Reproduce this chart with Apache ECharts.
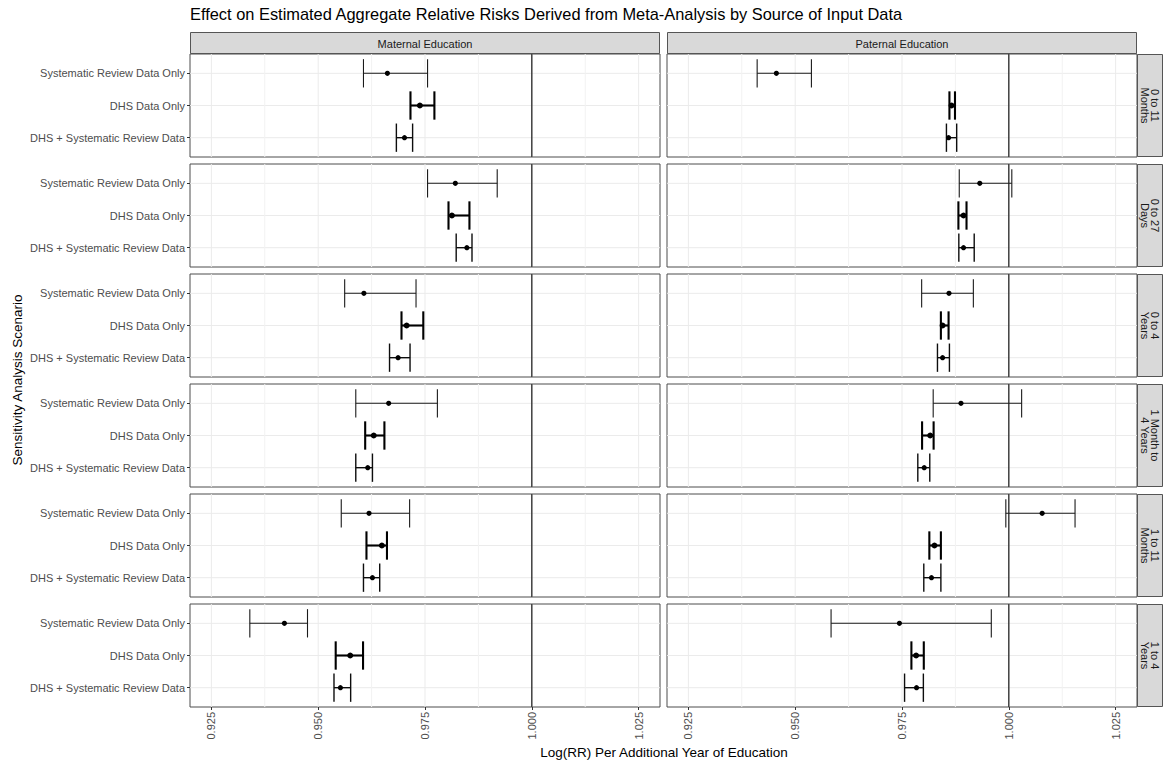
<!DOCTYPE html>
<html>
<head>
<meta charset="utf-8">
<script src="https://cdn.jsdelivr.net/npm/echarts@6/dist/echarts.min.js"></script>
<style>
  html, body { margin: 0; padding: 0; background: #ffffff; }
  #chart { width: 1167px; height: 763px; }
</style>
</head>
<body>
<div id="chart"></div>
<script>
// ---- data -----------------------------------------------------------------
const sources = ['Systematic Review Data Only', 'DHS Data Only', 'DHS + Systematic Review Data'];
const exposures = ['Maternal Education', 'Paternal Education'];
const ageGroups = ['0 to 11\nMonths', '0 to 27\nDays', '0 to 4\nYears', '1 Month to\n4 Years', '1 to 11\nMonths', '1 to 4\nYears'];
const majorTicks = [0.925, 0.95, 0.975, 1.0, 1.025];
const minorTicks = [0.9375, 0.9625, 0.9875, 1.0125];
const referenceValue = 1.0;

// rows = age groups, columns = sources (SR only, DHS only, DHS + SR)
const maternalEstimate = [
  [0.9662, 0.9738, 0.9702],
  [0.9821, 0.9813, 0.9848],
  [0.9607, 0.9707, 0.9687],
  [0.9665, 0.9630, 0.9616],
  [0.9619, 0.9649, 0.9627],
  [0.9421, 0.9575, 0.9552]
];
const maternalLower = [
  [0.9606, 0.9716, 0.9683],
  [0.9756, 0.9805, 0.9823],
  [0.9562, 0.9695, 0.9667],
  [0.9588, 0.9610, 0.9588],
  [0.9554, 0.9613, 0.9606],
  [0.9340, 0.9541, 0.9537]
];
const maternalUpper = [
  [0.9756, 0.9772, 0.9721],
  [0.9919, 0.9854, 0.9860],
  [0.9729, 0.9746, 0.9715],
  [0.9779, 0.9655, 0.9627],
  [0.9714, 0.9661, 0.9644],
  [0.9475, 0.9605, 0.9576]
];
const paternalEstimate = [
  [0.9456, 0.9866, 0.9859],
  [0.9932, 0.9894, 0.9894],
  [0.9860, 0.9845, 0.9845],
  [0.9888, 0.9816, 0.9802],
  [1.0078, 0.9826, 0.9819],
  [0.9744, 0.9783, 0.9784]
];
const paternalLower = [
  [0.9411, 0.9861, 0.9854],
  [0.9884, 0.9882, 0.9883],
  [0.9796, 0.9841, 0.9833],
  [0.9823, 0.9797, 0.9787],
  [0.9993, 0.9814, 0.9801],
  [0.9584, 0.9772, 0.9756]
];
const paternalUpper = [
  [0.9538, 0.9874, 0.9878],
  [1.0007, 0.9901, 0.9919],
  [0.9917, 0.9859, 0.9861],
  [1.0030, 0.9824, 0.9815],
  [1.0155, 0.9841, 0.9841],
  [0.9959, 0.9801, 0.9800]
];

// ---- styling & layout -----------------------------------------------------
const FONT = '"Liberation Sans", Arial, Helvetica, sans-serif';
const xMin = 0.92, xMax = 1.03;
const panelLeft = [190, 667];
const panelWidth = 470;
const panelTop0 = 54, panelPitch = 110, panelHeight = 103;
const sourceStyle = [
  { color: '#1a1a1a', width: 1.1, r: 2.6 },
  { color: '#000000', width: 2.1, r: 3.0 },
  { color: '#0d0d0d', width: 1.4, r: 2.6 }
];

const panels = [
  { est: maternalEstimate, lo: maternalLower, hi: maternalUpper },
  { est: paternalEstimate, lo: paternalLower, hi: paternalUpper }
];

const grids = [], xAxes = [], yAxes = [], series = [], graphics = [];

// background grid lines and the reference line at 1.0
function gridRender(params, api) {
  const cs = params.coordSys;
  const kind = api.value(2);
  if (kind === 2) {
    const y = api.coord([xMin, api.value(1)])[1];
    return { type: 'line', silent: true,
      shape: { x1: cs.x, y1: y, x2: cs.x + cs.width, y2: y },
      style: { stroke: '#ebebeb', lineWidth: 1 } };
  }
  const x = api.coord([api.value(0), 1])[0];
  const styles = [
    { stroke: '#ebebeb', lineWidth: 1 },
    { stroke: '#f2f2f2', lineWidth: 1 },
    null,
    { stroke: '#262626', lineWidth: 1.3 }
  ];
  return { type: 'line', silent: true,
    shape: { x1: x, y1: cs.y, x2: x, y2: cs.y + cs.height },
    style: styles[kind] };
}

// horizontal error bar with end caps and a point estimate
function barRender(params, api) {
  const i = api.value(3);
  const lo = api.coord([api.value(0), i]);
  const hi = api.coord([api.value(1), i]);
  const mid = api.coord([api.value(2), i]);
  const half = api.size([0, 0.88])[1] / 2;
  const st = sourceStyle[i];
  const ls = { stroke: st.color, lineWidth: st.width, lineCap: 'butt' };
  return { type: 'group', children: [
    { type: 'line', shape: { x1: lo[0], y1: lo[1], x2: hi[0], y2: hi[1] }, style: ls },
    { type: 'line', shape: { x1: lo[0], y1: lo[1] - half, x2: lo[0], y2: lo[1] + half }, style: ls },
    { type: 'line', shape: { x1: hi[0], y1: hi[1] - half, x2: hi[0], y2: hi[1] + half }, style: ls },
    { type: 'circle', shape: { cx: mid[0], cy: mid[1], r: st.r }, style: { fill: '#000000' } }
  ] };
}

for (let r = 0; r < ageGroups.length; r++) {
  for (let c = 0; c < exposures.length; c++) {
    const g = grids.length;
    const top = panelTop0 + r * panelPitch;
    grids.push({ left: panelLeft[c], top: top, width: panelWidth, height: panelHeight,
      show: true, borderColor: '#4d4d4d', borderWidth: 1, backgroundColor: '#ffffff', containLabel: false });
    const bottomRow = r === ageGroups.length - 1;
    xAxes.push({ gridIndex: g, type: 'value', min: xMin, max: xMax, position: 'bottom',
      axisLine: { show: false, onZero: false }, splitLine: { show: false },
      axisTick: { show: bottomRow, customValues: majorTicks, length: 3, lineStyle: { color: '#333333', width: 1 } },
      axisLabel: { show: bottomRow, customValues: majorTicks, rotate: 90, margin: 5,
        formatter: v => Number(v).toFixed(3), color: '#4d4d4d', fontSize: 11, fontFamily: FONT } });
    yAxes.push({ gridIndex: g, type: 'value', min: -0.6, max: 2.6, inverse: true, position: 'left',
      axisLine: { show: false, onZero: false }, splitLine: { show: false },
      axisTick: { show: c === 0, customValues: [0, 1, 2], length: 3, lineStyle: { color: '#333333', width: 1 } },
      axisLabel: { show: c === 0, customValues: [0, 1, 2], margin: 5,
        formatter: v => sources[Math.round(v)], color: '#4d4d4d', fontSize: 11, fontFamily: FONT } });

    const lineData = [];
    [0, 1, 2].forEach(i => lineData.push([xMin, i, 2]));
    minorTicks.forEach(v => lineData.push([v, 1, 1]));
    majorTicks.forEach(v => lineData.push([v, 1, 0]));
    lineData.push([referenceValue, 1, 3]);
    series.push({ type: 'custom', xAxisIndex: g, yAxisIndex: g, silent: true, z: 1,
      renderItem: gridRender, data: lineData, animation: false });

    const p = panels[c];
    const barData = sources.map((s, i) => [p.lo[r][i], p.hi[r][i], p.est[r][i], i]);
    series.push({ type: 'custom', xAxisIndex: g, yAxisIndex: g, z: 3,
      encode: { x: [0, 1, 2], y: 3 },
      renderItem: barRender, data: barData, animation: false });
  }
  // right-hand facet strip
  const top = panelTop0 + r * panelPitch;
  graphics.push({ type: 'rect', shape: { x: 1137.5, y: top + 0.5, width: 25, height: panelHeight - 1 },
    style: { fill: '#d9d9d9', stroke: '#555555', lineWidth: 1 }, silent: true });
  graphics.push({ type: 'text', x: 1150, y: top + panelHeight / 2, rotation: -Math.PI / 2,
    style: { text: ageGroups[r], align: 'center', verticalAlign: 'middle', fill: '#1a1a1a',
      fontSize: 11, lineHeight: 10, fontFamily: FONT }, silent: true });
}

// top facet strips
exposures.forEach((name, c) => {
  graphics.push({ type: 'rect', shape: { x: panelLeft[c] + 0.5, y: 32.5, width: panelWidth - 1, height: 21 },
    style: { fill: '#d9d9d9', stroke: '#555555', lineWidth: 1 }, silent: true });
  graphics.push({ type: 'text', x: panelLeft[c] + panelWidth / 2, y: 43.5,
    style: { text: name, align: 'center', verticalAlign: 'middle', fill: '#1a1a1a',
      fontSize: 11, fontFamily: FONT }, silent: true });
});

// titles
graphics.push({ type: 'text', x: 190, y: 14,
  style: { text: 'Effect on Estimated Aggregate Relative Risks Derived from Meta-Analysis by Source of Input Data',
    align: 'left', verticalAlign: 'middle', fill: '#000000', fontSize: 16.4, fontFamily: FONT }, silent: true });
graphics.push({ type: 'text', x: 664, y: 752,
  style: { text: 'Log(RR) Per Additional Year of Education', align: 'center', verticalAlign: 'middle',
    fill: '#000000', fontSize: 13.5, fontFamily: FONT }, silent: true });
graphics.push({ type: 'text', x: 17, y: 380, rotation: Math.PI / 2,
  style: { text: 'Sensitivity Analysis Scenario', align: 'center', verticalAlign: 'middle',
    fill: '#000000', fontSize: 13.5, fontFamily: FONT }, silent: true });

const chart = echarts.init(document.getElementById('chart'), null, { renderer: 'svg' });
chart.setOption({
  animation: false,
  backgroundColor: '#ffffff',
  grid: grids,
  xAxis: xAxes,
  yAxis: yAxes,
  series: series,
  graphic: { elements: graphics }
});
</script>
</body>
</html>
